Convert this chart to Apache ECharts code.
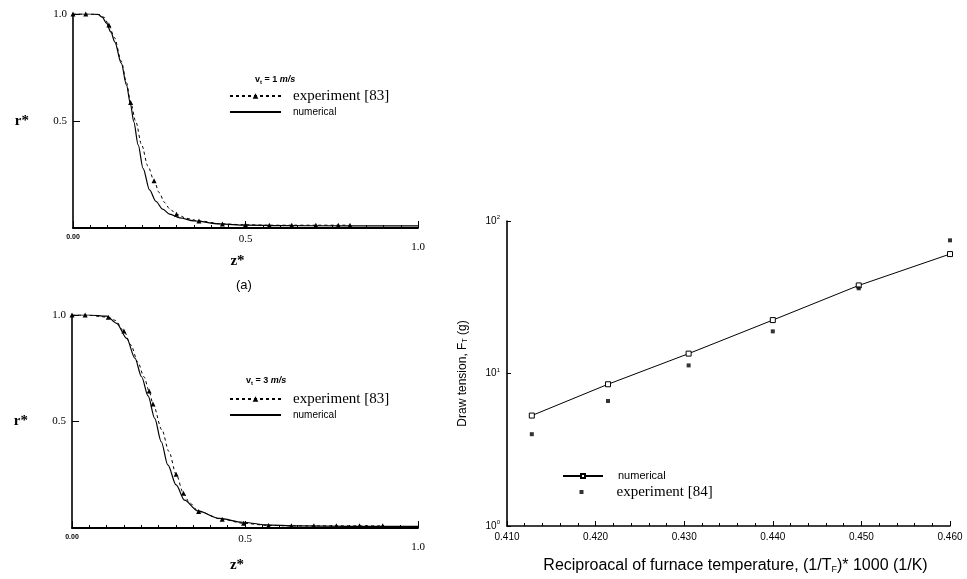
<!DOCTYPE html>
<html>
<head>
<meta charset="utf-8">
<script src="https://cdn.jsdelivr.net/npm/echarts@6/dist/echarts.min.js"></script>
<style>
  html, body { margin: 0; background: #fff; }
  #chart { width: 967px; height: 579px; }
</style>
</head>
<body>
<div id="chart"></div>
<script>
// panel (a): v_t = 1 m/s
const num1Z = [0, 0.05, 0.072, 0.085, 0.097, 0.11, 0.121, 0.14, 0.155, 0.167, 0.176, 0.189, 0.203, 0.222, 0.24, 0.26, 0.28, 0.31, 0.35, 0.425, 0.5, 0.6, 0.8, 1.0];
const num1R = [1, 1, 0.998, 0.985, 0.957, 0.915, 0.87, 0.77, 0.668, 0.575, 0.497, 0.388, 0.279, 0.178, 0.125, 0.088, 0.065, 0.047, 0.033, 0.019, 0.013, 0.011, 0.01, 0.01];
// measured points (triangles)
const exp1Z = [0, 0.037, 0.104, 0.167, 0.235, 0.3, 0.365, 0.433, 0.5, 0.569, 0.634, 0.704, 0.769, 0.803];
const exp1R = [1, 1, 0.949, 0.587, 0.221, 0.064, 0.033, 0.019, 0.015, 0.013, 0.013, 0.013, 0.013, 0.013];
// dashed guide between the points
const exp1LineZ = [0.075, 0.09, 0.12, 0.14, 0.155, 0.182, 0.199, 0.217, 0.25, 0.265, 0.28, 0.33];
const exp1LineR = [0.998, 0.985, 0.89, 0.78, 0.68, 0.497, 0.388, 0.29, 0.165, 0.12, 0.09, 0.045];

// panel 2: v_t = 3 m/s
const num2Z = [0, 0.05, 0.1, 0.129, 0.158, 0.182, 0.201, 0.22, 0.239, 0.258, 0.277, 0.301, 0.325, 0.364, 0.426, 0.493, 0.56, 0.65, 0.8, 1.0];
const num2R = [1, 1, 0.995, 0.961, 0.89, 0.797, 0.71, 0.62, 0.515, 0.405, 0.296, 0.202, 0.131, 0.08, 0.045, 0.027, 0.015, 0.01, 0.008, 0.008];
const exp2Z = [0, 0.038, 0.105, 0.15, 0.223, 0.234, 0.301, 0.322, 0.366, 0.434, 0.496, 0.568, 0.634, 0.699, 0.764, 0.831, 0.898];
const exp2R = [1, 1, 0.99, 0.925, 0.643, 0.582, 0.252, 0.163, 0.077, 0.041, 0.022, 0.012, 0.01, 0.01, 0.01, 0.01, 0.01];
const exp2LineZ = [0.125, 0.17, 0.19, 0.208, 0.26, 0.28, 0.34];
const exp2LineR = [0.975, 0.86, 0.78, 0.71, 0.46, 0.36, 0.118];

// draw tension vs reciprocal furnace temperature
const tempX = [0.4128, 0.4214, 0.4305, 0.44, 0.4497, 0.46];
const tensionNum = [5.3, 8.5, 13.5, 22.4, 37.8, 60.7];
const tensionExp = [4.0, 6.6, 11.3, 18.9, 36.2, 74.7];

const serif = '"Liberation Serif", "DejaVu Serif", serif';
const sans = '"Liberation Sans", Arial, sans-serif';

function pairs(xs, ys) {
  return xs.map((x, i) => [x, ys[i]]);
}

// markers keep the triangle, guide points get no symbol
function dashedData(mz, mr, lz, lr) {
  const pts = mz.map((z, i) => ({ value: [z, mr[i]] }))
    .concat(lz.map((z, i) => ({ value: [z, lr[i]], symbol: 'none' })));
  return pts.sort((a, b) => a.value[0] - b.value[0]);
}

function zAxis(gi, gap) {
  return {
    type: 'value', gridIndex: gi, min: 0, max: 1, interval: 0.5,
    axisLine: { show: true, lineStyle: { color: '#000', width: 1.8 } },
    axisTick: { show: true, inside: true, length: 7, lineStyle: { color: '#000' } },
    minorTick: { show: true, splitNumber: 10, length: 3, lineStyle: { color: '#000' } },
    splitLine: { show: false },
    axisLabel: {
      margin: 6, color: '#000',
      formatter: v => v === 0 ? '{s|0.00}' : v === 1 ? '{e|1.0}' : '{m|0.5}',
      rich: {
        s: { fontFamily: sans, fontSize: 7, fontWeight: 'bold', color: '#000' },
        m: { fontFamily: serif, fontSize: 11, color: '#000' },
        e: { fontFamily: serif, fontSize: 11, color: '#000', padding: [8, 0, 0, 0] }
      }
    },
    name: 'z*', nameLocation: 'middle', nameGap: gap,
    nameTextStyle: { fontFamily: serif, fontSize: 15, fontWeight: 'bold', color: '#000', padding: [0, 16, 0, 0] }
  };
}

function rAxis(gi) {
  return {
    type: 'value', gridIndex: gi, min: 0, max: 1, interval: 0.5,
    axisLine: { show: true, lineStyle: { color: '#000', width: 1.6 } },
    axisTick: { show: true, inside: true, length: 7, lineStyle: { color: '#000' } },
    splitLine: { show: false },
    axisLabel: { margin: 6, color: '#000', fontFamily: serif, fontSize: 11, formatter: v => v === 0 ? '' : v.toFixed(1) },
    name: 'r*', nameLocation: 'middle', nameRotate: 0, nameGap: 44,
    nameTextStyle: { fontFamily: serif, fontSize: 15, fontWeight: 'bold', color: '#000' }
  };
}

function numSeries(gi, z, r) {
  return {
    name: 'numerical', type: 'line', xAxisIndex: gi, yAxisIndex: gi,
    data: pairs(z, r), symbol: 'none', smooth: 0.3, smoothMonotone: 'x',
    lineStyle: { color: '#000', width: 1.2 }, itemStyle: { color: '#000' },
    silent: true, z: 3
  };
}

function expSeries(gi, data) {
  return {
    name: 'experiment [83]', type: 'line', xAxisIndex: gi, yAxisIndex: gi,
    data: data, symbol: 'triangle', symbolSize: 5, smooth: 0.3, smoothMonotone: 'x',
    lineStyle: { color: '#000', width: 1, type: [3, 3] }, itemStyle: { color: '#000' },
    silent: true, z: 4
  };
}

function leftLegend(top) {
  return {
    orient: 'vertical', left: 229, top: top, padding: 0, itemWidth: 51, itemHeight: 7, itemGap: 0,
    selectedMode: false,
    textStyle: { color: '#000', padding: [0, 0, 0, 7] },
    data: [
      { name: 'experiment [83]', textStyle: { fontFamily: serif, fontSize: 15, lineHeight: 16 } },
      { name: 'numerical', itemStyle: { opacity: 0 }, textStyle: { fontFamily: sans, fontSize: 10, lineHeight: 16 } }
    ]
  };
}

function speedTitle(text, left, top) {
  return {
    text: text, left: left, top: top, padding: 0,
    textStyle: {
      rich: {
        a: { fontFamily: sans, fontSize: 9, fontWeight: 'bold', color: '#000' },
        b: { fontFamily: sans, fontSize: 6, fontWeight: 'bold', color: '#000', padding: [5, 0, 0, 0] },
        c: { fontFamily: sans, fontSize: 9, fontWeight: 'bold', fontStyle: 'italic', color: '#000' }
      }
    }
  };
}

const chart = echarts.init(document.getElementById('chart'));
chart.setOption({
  animation: false,
  backgroundColor: '#fff',
  title: [
    speedTitle('{a|v}{b|t}{a| = 1 }{c|m/s}', 255, 74),
    speedTitle('{a|v}{b|t}{a| = 3 }{c|m/s}', 246, 375),
    { text: '(a)', left: 236, top: 279, padding: 0, textStyle: { fontFamily: sans, fontSize: 13, fontWeight: 'normal', color: '#000' } }
  ],
  grid: [
    { left: 73, top: 14, width: 345, height: 214 },
    { left: 72, top: 315, width: 346, height: 213 },
    { left: 507, top: 221, width: 443, height: 306 }
  ],
  legend: [
    leftLegend(88),
    leftLegend(391),
    {
      orient: 'vertical', left: 562, top: 468, padding: 0, itemWidth: 40, itemHeight: 5,
      selectedMode: false,
      textStyle: { color: '#000', padding: [0, 0, 0, 10] },
      data: [{ name: 'numerical ', textStyle: { fontFamily: sans, fontSize: 11, lineHeight: 16 } }]
    },
    {
      orient: 'vertical', left: 579.5, top: 484, padding: 0, itemWidth: 4, itemHeight: 4,
      selectedMode: false,
      textStyle: { color: '#000', padding: [0, 0, 0, 28] },
      data: [{ name: 'experiment [84]', textStyle: { fontFamily: serif, fontSize: 15, lineHeight: 16 } }]
    }
  ],
  xAxis: [
    zAxis(0, 24),
    zAxis(1, 30),
    {
      type: 'value', gridIndex: 2, min: 0.41, max: 0.46, interval: 0.01,
      axisLine: { show: true, lineStyle: { color: '#000', width: 1.6 } },
      axisTick: { show: true, inside: true, length: 5, lineStyle: { color: '#000' } },
      minorTick: { show: true, splitNumber: 5, length: 3, lineStyle: { color: '#000' } },
      splitLine: { show: false },
      axisLabel: { margin: 6, color: '#000', fontFamily: sans, fontSize: 10, formatter: v => v.toFixed(3) },
      name: 'Reciproacal of furnace temperature, (1/T{sub|F})* 1000 (1/K)',
      nameLocation: 'middle', nameGap: 31,
      nameTextStyle: {
        fontFamily: sans, fontSize: 16, color: '#000', padding: [0, 0, 0, 14],
        rich: { sub: { fontFamily: sans, fontSize: 9, color: '#000', padding: [8, 0, 0, 0] } }
      }
    }
  ],
  yAxis: [
    rAxis(0),
    rAxis(1),
    {
      type: 'log', logBase: 10, gridIndex: 2, min: 1, max: 100,
      axisLine: { show: true, lineStyle: { color: '#000', width: 1.6 } },
      axisTick: { show: true, inside: true, length: 4, lineStyle: { color: '#000' } },
      splitLine: { show: false },
      axisLabel: {
        margin: 7, color: '#000',
        formatter: v => '{b|10}{p|' + Math.round(Math.log10(v)) + '}',
        rich: {
          b: { fontFamily: sans, fontSize: 10, color: '#000' },
          p: { fontFamily: sans, fontSize: 6, color: '#000', padding: [0, 0, 7, 0] }
        }
      },
      name: 'Draw tension, F{sub|T} (g)', nameLocation: 'middle', nameRotate: 90, nameGap: 38,
      nameTextStyle: {
        fontFamily: sans, fontSize: 12, color: '#000',
        rich: { sub: { fontFamily: sans, fontSize: 7, color: '#000', padding: [6, 0, 0, 0] } }
      }
    }
  ],
  series: [
    numSeries(0, num1Z, num1R),
    expSeries(0, dashedData(exp1Z, exp1R, exp1LineZ, exp1LineR)),
    numSeries(1, num2Z, num2R),
    expSeries(1, dashedData(exp2Z, exp2R, exp2LineZ, exp2LineR)),
    {
      name: 'numerical ', type: 'line', xAxisIndex: 2, yAxisIndex: 2,
      data: pairs(tempX, tensionNum), symbol: 'rect', symbolSize: 5,
      lineStyle: { color: '#000', width: 1 },
      itemStyle: { color: '#fff', borderColor: '#000', borderWidth: 1 },
      silent: true, clip: false, z: 3
    },
    {
      name: 'experiment [84]', type: 'scatter', xAxisIndex: 2, yAxisIndex: 2,
      data: pairs(tempX, tensionExp), symbol: 'rect', symbolSize: 4,
      itemStyle: { color: '#000' }, silent: true, clip: false, z: 4
    }
  ]
});
</script>
</body>
</html>
